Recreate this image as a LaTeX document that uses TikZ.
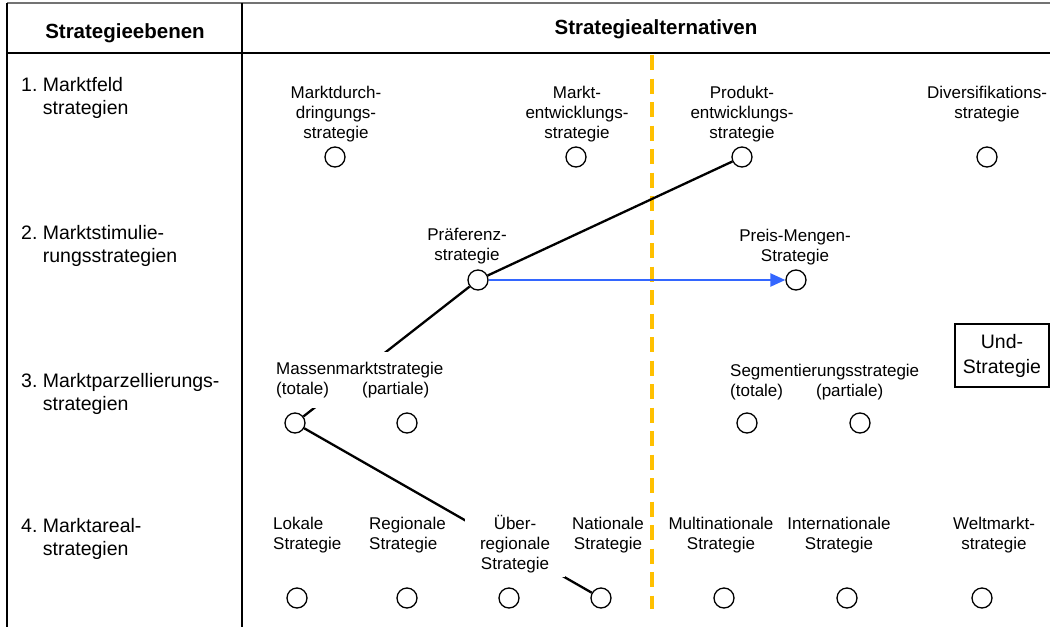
\documentclass[tikz,border=0pt]{standalone}
\usepackage{fontspec}
\setmainfont{Liberation Sans}
\usetikzlibrary{arrows.meta}
\definecolor{markyellow}{RGB}{255,192,0}
\definecolor{arrowblue}{RGB}{51,102,255}
\begin{document}
\begin{tikzpicture}[x=1pt,y=-1pt,
  lbl/.style={inner sep=0pt, align=center, font=\fontsize{17}{20}\selectfont},
  lbll/.style={inner sep=0pt, align=left, font=\fontsize{17}{20}\selectfont},
  lvl/.style={inner sep=0pt, align=left, anchor=west, font=\fontsize{19.5}{23}\selectfont},
  head/.style={inner sep=0pt, font=\fontsize{20.5}{24}\selectfont\bfseries},
  opt/.style={circle, draw, line width=1.3pt, fill=white, minimum size=20pt, inner sep=0pt},
  link/.style={line width=2.3pt},
  cover/.style={fill=white}
]
\useasboundingbox (0,0) rectangle (1050,627);

% table frame
\draw[black!55, line width=1.2pt] (7,3) -- (1050,3);
\draw[line width=2.2pt] (7,53) -- (1050,53);
\draw[line width=1.3pt] (7,3) -- (7,627);
\draw[line width=1.3pt] (242,3) -- (242,627);

% headers
\node[head] (h1) at (125,33) {Strategieebenen};
\node[head] (h2) at (656,29) {Strategiealternativen};

% strategy levels
\node[lvl] (lv1) at (21,97.5) {1.~Marktfeld\\\phantom{1.~}strategien};
\node[lvl] (lv2) at (21,245.5) {2.~Marktstimulie-\\\phantom{2.~}rungsstrategien};
\node[lvl] (lv3) at (21,393.5) {3.~Marktparzellierungs-\\\phantom{3.~}strategien};
\node[lvl] (lv4) at (21,538.5) {4.~Marktareal-\\\phantom{4.~}strategien};

% dividing line between the alternatives
\draw[markyellow, line width=3.5pt, dash pattern=on 15pt off 8.5pt] (652,55) -- (652,609);

% option circles
\node[opt] (r1a) at (335,157) {};
\node[opt] (r1b) at (576,157) {};
\node[opt] (r1c) at (742,157) {};
\node[opt] (r1d) at (987,157) {};
\node[opt] (r2a) at (478,280) {};
\node[opt] (r2b) at (796,280) {};
\node[opt] (r3a) at (295,423) {};
\node[opt] (r3b) at (407,423) {};
\node[opt] (r3c) at (747,423) {};
\node[opt] (r3d) at (860,423) {};
\node[opt] (r4a) at (297,598) {};
\node[opt] (r4b) at (407,598) {};
\node[opt] (r4c) at (509,598) {};
\node[opt] (r4d) at (601,598) {};
\node[opt] (r4e) at (724,598) {};
\node[opt] (r4f) at (847,598) {};
\node[opt] (r4g) at (982,598) {};

% strategy profile
\draw[link] (r2a) -- (r1c);
\draw[link] (r2a) -- (r3a);
\draw[link] (r3a) -- (r4d);
\draw[arrowblue, line width=2.3pt, -{Triangle[length=15pt,width=13pt]}] (r2a) -- (r2b);

% row 1 labels
\node[lbl] (t1a) at (336,114.6) {Marktdurch-\\dringungs-\\strategie};
\node[lbl] (t1b) at (577,114.6) {Markt-\\entwicklungs-\\strategie};
\node[lbl] (t1c) at (742,114.6) {Produkt-\\entwicklungs-\\strategie};
\node[lbl] (t1d) at (987,104.6) {Diversifikations-\\strategie};

% row 2 labels
\node[lbl] (t2a) at (467,246.6) {Präferenz-\\strategie};
\node[lbl] (t2b) at (795,246.6) {Preis-Mengen-\\Strategie};

% row 3 labels
\node[lbll, cover, anchor=west, inner xsep=4pt, minimum height=56pt] (t3a) at (272,380)
  {Massenmarktstrategie\\(totale)\hspace{33pt}(partiale)};
\node[lbll, anchor=west] (t3b) at (730,381.6)
  {Segmentierungsstrategie\\(totale)\hspace{33pt}(partiale)};
\node[draw, line width=1.3pt, minimum width=94pt, minimum height=63pt, inner sep=0pt,
  align=center, font=\fontsize{19.5}{25}\selectfont] (und) at (1002,355.5) {Und-\\Strategie};

% row 4 labels
\node[lbll, anchor=west] (t4a) at (273,534.6) {Lokale\\Strategie};
\node[lbll, anchor=west] (t4b) at (369,534.6) {Regionale\\Strategie};
\node[lbl, cover, minimum width=100pt, minimum height=64pt] (t4c) at (515,544.6) {Über-\\regionale\\Strategie};
\node[lbl] (t4d) at (608,534.6) {Nationale\\Strategie};
\node[lbl] (t4e) at (721,534.6) {Multinationale\\Strategie};
\node[lbl] (t4f) at (839,534.6) {Internationale\\Strategie};
\node[lbl] (t4g) at (994,534.6) {Weltmarkt-\\strategie};
\end{tikzpicture}
\end{document}
